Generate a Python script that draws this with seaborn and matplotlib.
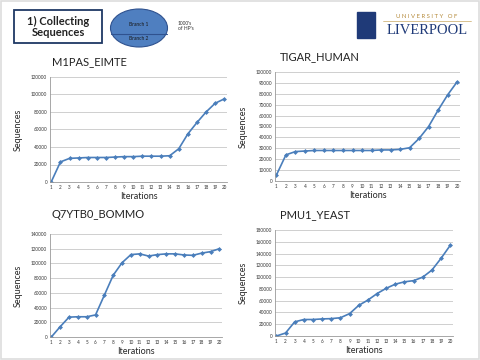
import matplotlib
matplotlib.use("Agg")
import matplotlib.pyplot as plt
import seaborn as sns
import pandas as pd
from matplotlib.patches import Rectangle, Ellipse

sns.set_theme(style="white")
plt.rcParams['font.family'] = ['Lato', 'DejaVu Sans']

iterations = list(range(1, 21))
m1pas = [500, 23000, 27000, 27500, 28000, 28000, 28000, 28500, 29000, 29000,
         29500, 29500, 29500, 30000, 38000, 55000, 68000, 80000, 90000, 95000]
tigar = [5500, 24000, 27000, 27500, 28000, 28000, 28000, 28000, 28000, 28000,
         28000, 28500, 28500, 29000, 30500, 39000, 50000, 65000, 79000, 91000]
q7ytb0 = [0, 14000, 27000, 27500, 27500, 30000, 57000, 84000, 101000, 112000,
          113000, 110000, 112000, 113000, 113000, 111500, 111000, 114000, 116000, 120000]
pmu1 = [0, 5000, 24000, 28000, 28000, 29000, 29500, 31000, 38000, 52000,
        61000, 72000, 81000, 88000, 92000, 94000, 100000, 112000, 132000, 154000]

panels = [
    ("M1PAS_EIMTE", m1pas, (50, 77, 227, 182), 120000, 20000, (52, 62)),
    ("TIGAR_HUMAN", tigar, (275, 72, 460, 181), 100000, 10000, (280, 57)),
    ("Q7YTB0_BOMMO", q7ytb0, (50, 234, 222, 337), 140000, 20000, (52, 215)),
    ("PMU1_YEAST", pmu1, (275, 230, 453, 336), 180000, 20000, (280, 215)),
]

W, H = 480, 360
fig = plt.figure(figsize=(4.8, 3.6), dpi=100)
fig.patch.set_facecolor("white")

# slide border
fig.add_artist(Rectangle((0.003, 0.003), 0.994, 0.994, transform=fig.transFigure,
                         fill=False, edgecolor="#dddddd", linewidth=1.2))

for name, vals, (x0, y0, x1, y1), ymax, step, (tx, ty) in panels:
    ax = fig.add_axes([x0 / W, 1 - y1 / H, (x1 - x0) / W, (y1 - y0) / H])
    df = pd.DataFrame({"Iterations": iterations, "Sequences": vals})
    sns.lineplot(data=df, x="Iterations", y="Sequences", ax=ax, color="#4a7ebb",
                 marker="D", markersize=2.5, markeredgewidth=0, linewidth=1.2)
    ax.set_ylim(0, ymax)
    ax.set_yticks(range(0, ymax + 1, step))
    ax.set_xticks(iterations)
    ax.set_xlim(0.85, 20.3)
    ax.tick_params(labelsize=3.3, length=0, pad=2, colors="#333333")
    ax.yaxis.grid(True, color="#c8c8c8", linewidth=0.6)
    ax.set_axisbelow(True)
    for s in ["top", "right"]:
        ax.spines[s].set_visible(False)
    for s in ["left", "bottom"]:
        ax.spines[s].set_color("#999999")
        ax.spines[s].set_linewidth(0.6)
    ax.set_xlabel("Iterations", fontsize=6.5, labelpad=1.5)
    ax.set_ylabel("Sequences", fontsize=6.5, labelpad=6)
    fig.text(tx / W, 1 - ty / H, name, fontsize=8, va="center", ha="left", color="#222222")

# title box
fig.add_artist(Rectangle((14 / W, 1 - 43 / H), 88 / W, 33 / H, transform=fig.transFigure,
                         fill=False, edgecolor="#1f3864", linewidth=1.3))
fig.text(58 / W, 1 - 26.5 / H, "1) Collecting\nSequences", fontsize=8, fontweight="bold",
         ha="center", va="center", linespacing=1.0, color="#222222")

# branch ellipse
fig.add_artist(Ellipse((139 / W, 1 - 28 / H), 57 / W, 38 / H, transform=fig.transFigure,
                       facecolor="#4f7fc0", edgecolor="#2f528f", linewidth=0.8))
fig.add_artist(plt.Line2D([111 / W, 167 / W], [1 - 34 / H, 1 - 34 / H],
                          transform=fig.transFigure, color="#2f528f", linewidth=0.8))
fig.text(139 / W, 1 - 24 / H, "Branch 1", fontsize=3.5, ha="center", va="center", color="#1a1a1a")
fig.text(139 / W, 1 - 39 / H, "Branch 2", fontsize=3.5, ha="center", va="center", color="#1a1a1a")
fig.text(178 / W, 1 - 26 / H, "1000's\nof HP's", fontsize=3.5, ha="left", va="center",
         linespacing=1.1, color="#333333")

# university logo (text + shield)
fig.add_artist(Rectangle((357 / W, 1 - 38 / H), 18 / W, 26 / H, transform=fig.transFigure,
                         facecolor="#1f3a78", edgecolor="#1f3a78"))
fig.text(427 / W, 1 - 16 / H, "U N I V E R S I T Y   O F", fontsize=4.3, ha="center",
         va="center", color="#b58a3a")
fig.add_artist(plt.Line2D([383 / W, 471 / W], [1 - 21 / H, 1 - 21 / H],
                          transform=fig.transFigure, color="#c9a862", linewidth=0.5))
fig.text(427 / W, 1 - 31 / H, "LIVERPOOL", fontsize=10.5, ha="center", va="center",
         color="#1f3a78", family=["Liberation Serif", "DejaVu Serif"])

fig.savefig("out.png", dpi=100)
